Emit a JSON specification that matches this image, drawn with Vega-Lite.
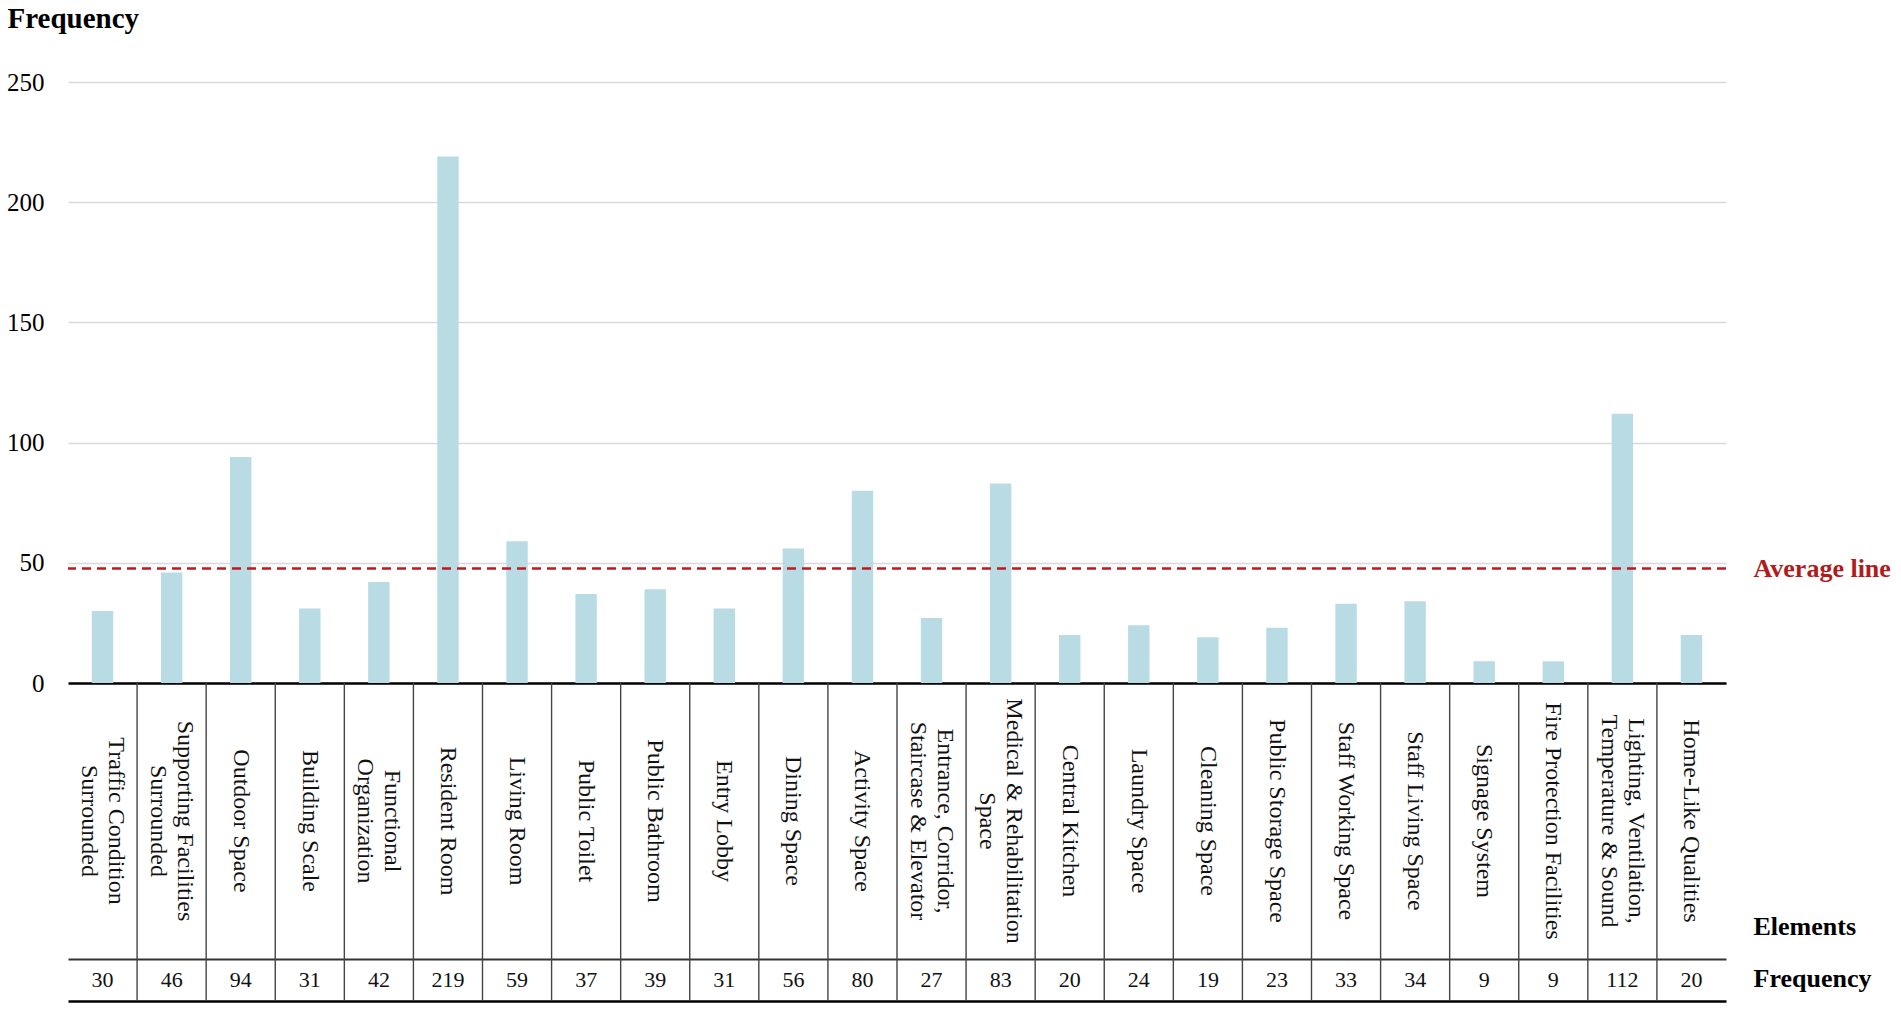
{
  "$schema": "https://vega.github.io/schema/vega-lite/v6.json",
  "background": "white",
  "padding": {"left": 6, "top": 4, "right": 5, "bottom": 5},
  "autosize": {"type": "pad"},
  "bounds": "flush",
  "spacing": 0,
  "config": {"view": {"stroke": null}, "font": "Liberation Serif"},
  "datasets": {
    "elements": [
      {"cat": "Traffic Condition Surrounded", "label": "Traffic Condition\nSurrounded", "value": 30},
      {"cat": "Supporting Facilities Surrounded", "label": "Supporting Facilities\nSurrounded", "value": 46},
      {"cat": "Outdoor Space", "label": "Outdoor Space", "value": 94},
      {"cat": "Building Scale", "label": "Building Scale", "value": 31},
      {"cat": "Functional Organization", "label": "Functional\nOrganization", "value": 42},
      {"cat": "Resident Room", "label": "Resident Room", "value": 219},
      {"cat": "Living Room", "label": "Living Room", "value": 59},
      {"cat": "Public Toilet", "label": "Public Toilet", "value": 37},
      {"cat": "Public Bathroom", "label": "Public Bathroom", "value": 39},
      {"cat": "Entry Lobby", "label": "Entry Lobby", "value": 31},
      {"cat": "Dining Space", "label": "Dining Space", "value": 56},
      {"cat": "Activity Space", "label": "Activity Space", "value": 80},
      {"cat": "Entrance, Corridor, Staircase & Elevator", "label": "Entrance, Corridor,\nStaircase & Elevator", "value": 27},
      {"cat": "Medical & Rehabilitation Space", "label": "Medical & Rehabilitation\nSpace", "value": 83},
      {"cat": "Central Kitchen", "label": "Central Kitchen", "value": 20},
      {"cat": "Laundry Space", "label": "Laundry Space", "value": 24},
      {"cat": "Cleaning Space", "label": "Cleaning Space", "value": 19},
      {"cat": "Public Storage Space", "label": "Public Storage Space", "value": 23},
      {"cat": "Staff Working Space", "label": "Staff Working Space", "value": 33},
      {"cat": "Staff Living Space", "label": "Staff Living Space", "value": 34},
      {"cat": "Signage System", "label": "Signage System", "value": 9},
      {"cat": "Fire Protection Facilities", "label": "Fire Protection Facilities", "value": 9},
      {"cat": "Lighting, Ventilation, Temperature & Sound", "label": "Lighting, Ventilation,\nTemperature & Sound", "value": 112},
      {"cat": "Home-Like Qualities", "label": "Home-Like Qualities", "value": 20}
    ],
    "avg": [{"avg": 47.6, "name": "Average line"}]
  },
  "vconcat": [
    {
      "width": 1658,
      "height": 601,
      "layer": [
        {
          "data": {"name": "elements"},
          "mark": {"type": "bar", "width": {"band": 0.31}, "color": "#b9dbe4"},
          "encoding": {
            "x": {
              "field": "cat", "type": "nominal", "sort": null,
              "scale": {"paddingInner": 0, "paddingOuter": 0},
              "axis": {"labels": false, "ticks": false, "title": null, "domain": true, "domainColor": "#000000", "domainWidth": 2.5}
            },
            "y": {
              "field": "value", "type": "quantitative",
              "scale": {"domain": [0, 250], "nice": false},
              "axis": {
                "values": [0, 50, 100, 150, 200, 250],
                "title": "Frequency", "titleAngle": 0, "titleAlign": "left", "titleBaseline": "alphabetic",
                "titleX": -61, "titleY": -55, "titleFontSize": 29, "titleFontWeight": "bold", "titleColor": "#000000",
                "labelFontSize": 25, "labelColor": "#000000", "labelPadding": 24,
                "ticks": false, "domain": false, "gridColor": "#d9d9d9", "gridWidth": 1.5
              }
            }
          }
        },
        {
          "data": {"name": "avg"},
          "mark": {"type": "rule", "color": "#c0181c", "strokeWidth": 2.5, "strokeDash": [9, 6]},
          "encoding": {"y": {"field": "avg", "type": "quantitative"}}
        },
        {
          "data": {"name": "avg"},
          "mark": {"type": "text", "align": "left", "baseline": "middle", "dx": 62, "fontSize": 26, "fontWeight": "bold", "color": "#b01c1c"},
          "encoding": {
            "x": {"datum": "Home-Like Qualities", "type": "nominal"},
            "y": {"field": "avg", "type": "quantitative"},
            "text": {"field": "name"}
          }
        }
      ]
    },
    {
      "width": 1658,
      "height": 276,
      "data": {"name": "elements"},
      "encoding": {
        "x": {
          "field": "cat", "type": "nominal", "sort": null,
          "scale": {"paddingInner": 0, "paddingOuter": 0},
          "axis": {
            "labels": false, "ticks": false, "grid": false, "domain": true, "domainColor": "#333333", "domainWidth": 1.8,
            "title": "Elements", "titleX": 1685, "titleY": -33, "titleAlign": "left", "titleBaseline": "middle",
            "titleFontSize": 26, "titleFontWeight": "bold", "titleColor": "#000000"
          }
        }
      },
      "layer": [
        {
          "transform": [{"filter": "datum.cat !== 'Home-Like Qualities'"}],
          "mark": {"type": "rule", "color": "#444444", "strokeWidth": 1.4},
          "encoding": {
            "x": {"field": "cat", "type": "nominal", "sort": null, "bandPosition": 1}
          }
        },
        {
          "transform": [{"filter": "indexof(datum.label, '\\n') < 0"}],
          "mark": {"type": "text", "angle": 90, "align": "center", "baseline": "middle", "fontSize": 24, "color": "#111111"},
          "encoding": {"text": {"field": "label"}}
        },
        {
          "transform": [{"filter": "indexof(datum.label, '\\n') >= 0"}],
          "mark": {"type": "text", "angle": 90, "align": "center", "baseline": "middle", "fontSize": 24, "lineHeight": 27, "lineBreak": "\n", "dy": -13.5, "color": "#111111"},
          "encoding": {"text": {"field": "label"}}
        }
      ]
    },
    {
      "width": 1658,
      "height": 42,
      "data": {"name": "elements"},
      "encoding": {
        "x": {
          "field": "cat", "type": "nominal", "sort": null,
          "scale": {"paddingInner": 0, "paddingOuter": 0},
          "axis": {
            "labels": false, "ticks": false, "grid": false, "domain": true, "domainColor": "#000000", "domainWidth": 2.5,
            "title": "Frequency", "titleX": 1685, "titleY": -23, "titleAlign": "left", "titleBaseline": "middle",
            "titleFontSize": 26, "titleFontWeight": "bold", "titleColor": "#000000"
          }
        }
      },
      "layer": [
        {
          "transform": [{"filter": "datum.cat !== 'Home-Like Qualities'"}],
          "mark": {"type": "rule", "color": "#444444", "strokeWidth": 1.4},
          "encoding": {
            "x": {"field": "cat", "type": "nominal", "sort": null, "bandPosition": 1}
          }
        },
        {
          "mark": {"type": "text", "align": "center", "baseline": "middle", "fontSize": 22, "color": "#111111"},
          "encoding": {"text": {"field": "value", "type": "quantitative"}}
        }
      ]
    }
  ]
}
